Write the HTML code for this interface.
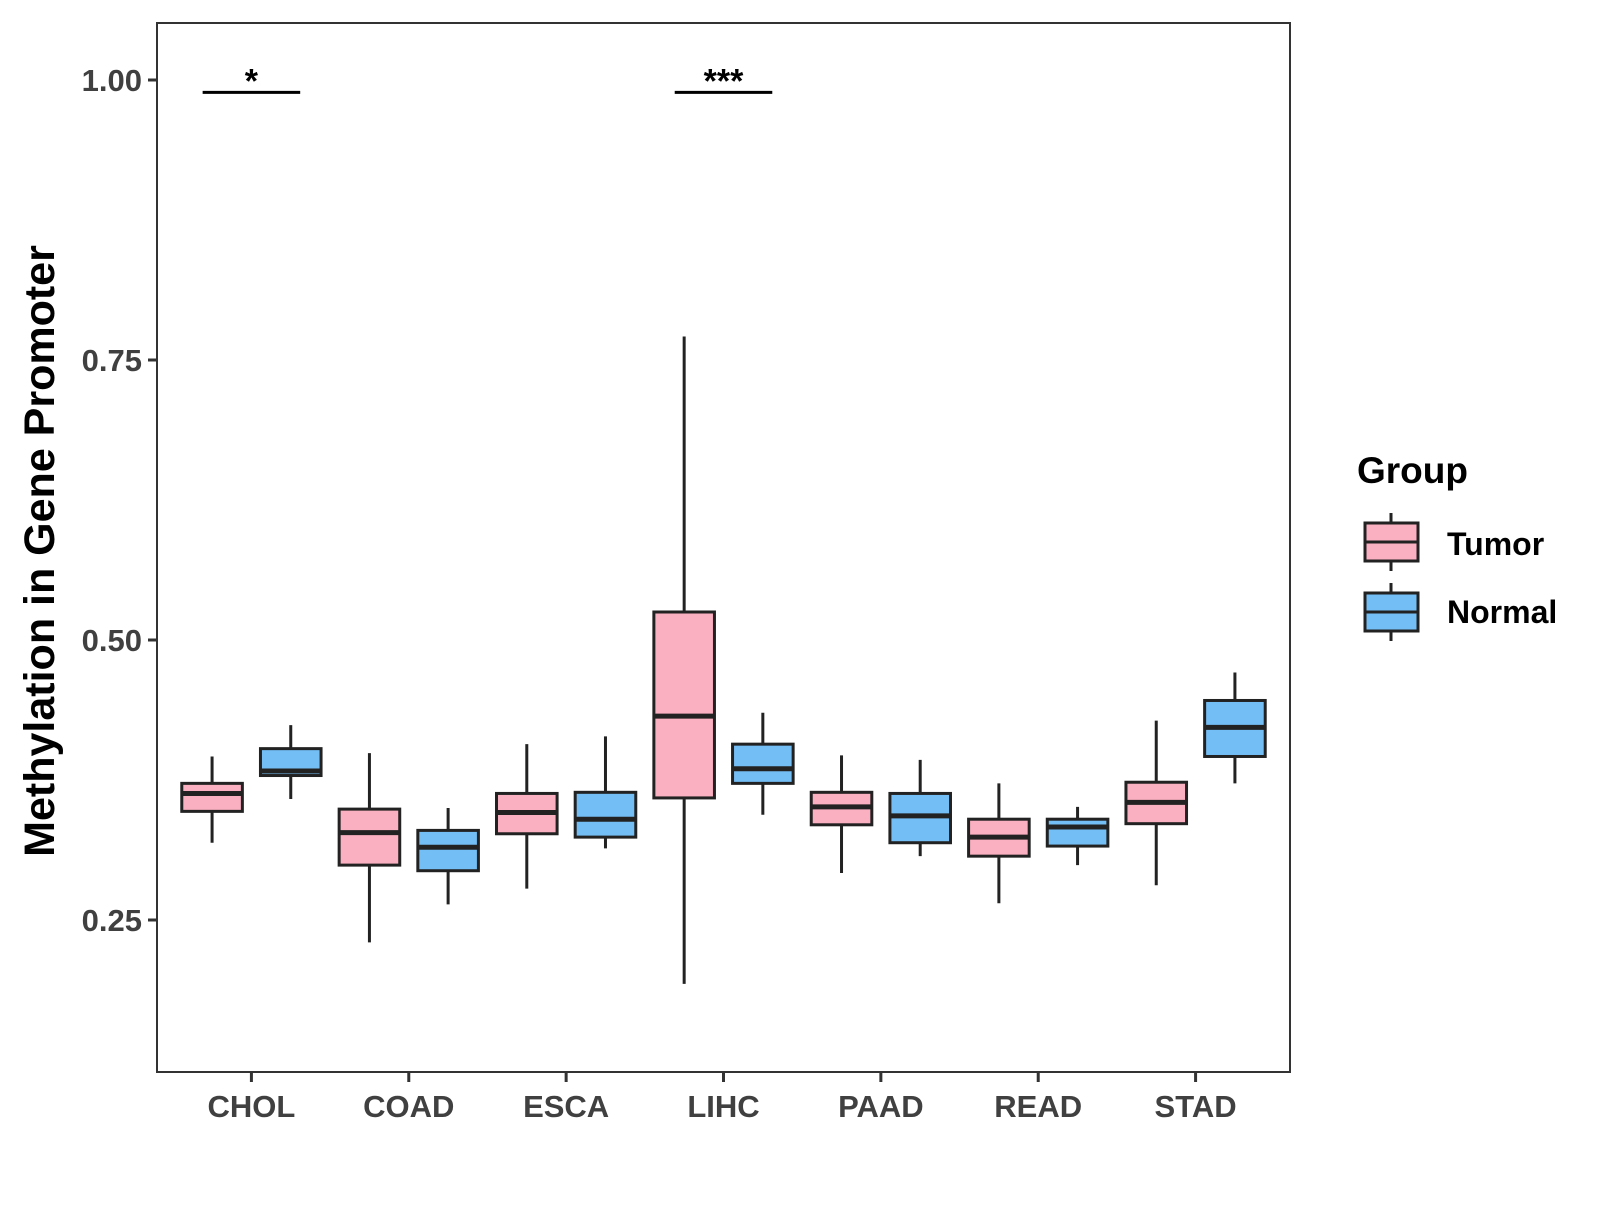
<!DOCTYPE html>
<html><head><meta charset="utf-8"><style>
html,body{margin:0;padding:0;background:#fff}
svg text{font-family:"Liberation Sans",Arial,sans-serif;font-weight:bold}
</style></head><body>
<svg id="chart" width="1600" height="1200" xmlns="http://www.w3.org/2000/svg">
<rect width="1600" height="1200" fill="#fff"/>
<g id="plot"></g>
<text transform="translate(54,551) rotate(-90)" text-anchor="middle" font-size="43" fill="#000">Methylation in Gene Promoter</text>
<g>
<text x="1357" y="483" font-size="37" fill="#000">Group</text>
<g>
<line x1="1391" y1="513" x2="1391" y2="571" stroke="#222" stroke-width="3"/>
<rect x="1365" y="523" width="53" height="38" fill="#FBB0C1" stroke="#222" stroke-width="3"/>
<line x1="1365" y1="542" x2="1418" y2="542" stroke="#222" stroke-width="3"/>
<text x="1447" y="555" font-size="32" fill="#000">Tumor</text>
</g>
<g>
<line x1="1391" y1="583" x2="1391" y2="641" stroke="#222" stroke-width="3"/>
<rect x="1365" y="593" width="53" height="38" fill="#74BEF6" stroke="#222" stroke-width="3"/>
<line x1="1365" y1="612" x2="1418" y2="612" stroke="#222" stroke-width="3"/>
<text x="1447" y="623" font-size="32" fill="#000">Normal</text>
</g>
</g>
</svg>
<script>
const categories=["CHOL","COAD","ESCA","LIHC","PAAD","READ","STAD"];
// [lowerWhisker, q1, median, q3, upperWhisker]
const tumorStats=[[0.319,0.347,0.363,0.372,0.396],[0.230,0.299,0.328,0.349,0.399],[0.278,0.327,0.346,0.363,0.407],[0.193,0.359,0.432,0.525,0.771],[0.292,0.335,0.351,0.364,0.397],[0.265,0.307,0.324,0.340,0.372],[0.281,0.336,0.355,0.373,0.428]];
const normalStats=[[0.358,0.379,0.383,0.403,0.424],[0.264,0.294,0.315,0.330,0.350],[0.314,0.324,0.340,0.364,0.414],[0.344,0.372,0.385,0.407,0.435],[0.307,0.319,0.343,0.363,0.393],[0.299,0.316,0.333,0.340,0.351],[0.372,0.396,0.422,0.446,0.471]];
const yTicks=[0.25,0.50,0.75,1.00];
const yTickLabels=["0.25","0.50","0.75","1.00"];
const sigCategories=["CHOL","LIHC"];
const sigLabels=["*","***"];
const sigLevel=[0.989,0.989];

const NS="http://www.w3.org/2000/svg";
const L=157,R=1290,T=23,B=1072;
const unit=(R-L)/(categories.length-1+1.2);
function xPos(i){return L+unit*(0.6+i);}
function yPos(v){return 80+(1-v)*1120;}
const g=document.getElementById('plot');
function mk(tag,attrs){const e=document.createElementNS(NS,tag);for(const k in attrs)e.setAttribute(k,attrs[k]);g.appendChild(e);return e;}

const panel=mk('rect',{x:L,y:T,width:R-L,height:B-T,fill:'none',stroke:'#333',"stroke-width":2});



yTicks.forEach((v,i)=>{
 const t=mk('line',{x1:L-9,x2:L,y1:yPos(v),y2:yPos(v),stroke:'#333',"stroke-width":3});
 
 
 const tx=mk('text',{x:L-15,y:yPos(v)+11,"text-anchor":"end","font-size":31,fill:'#404040'});
 tx.textContent=yTickLabels[i];
 
 
});
categories.forEach((c,i)=>{
 const x=xPos(i);
 const t=mk('line',{x1:x,x2:x,y1:B,y2:B+10,stroke:'#333',"stroke-width":3});
 
 
 const tx=mk('text',{x:x,y:B+45,"text-anchor":"middle","font-size":31,fill:'#404040'});
 tx.textContent=c;
 
 
});
const bw=unit*0.385;
function drawBox(cx,s,fill,name){
 const w=mk('line',{x1:cx,x2:cx,y1:yPos(s[0]),y2:yPos(s[4]),stroke:'#222',"stroke-width":3});
 
 
 const r=mk('rect',{x:cx-bw/2,y:yPos(s[3]),width:bw,height:yPos(s[1])-yPos(s[3]),fill:fill,stroke:'#222',"stroke-width":3});
 
 
 const m=mk('line',{x1:cx-bw/2,x2:cx+bw/2,y1:yPos(s[2]),y2:yPos(s[2]),stroke:'#222',"stroke-width":5});
 
 
}
categories.forEach((c,i)=>{
 drawBox(xPos(i)-unit*0.25,tumorStats[i],'#FBB0C1','tumor-'+c.toLowerCase());
 drawBox(xPos(i)+unit*0.25,normalStats[i],'#74BEF6','normal-'+c.toLowerCase());
});
sigCategories.forEach((c,k)=>{
 const i=categories.indexOf(c);
 const y=yPos(sigLevel[k]);
 const ln=mk('line',{x1:xPos(i)-unit*0.31,x2:xPos(i)+unit*0.31,y1:y,y2:y,stroke:'#000',"stroke-width":3});
 
 
 const tx=mk('text',{x:xPos(i),y:y,"text-anchor":"middle","font-size":34,fill:'#000'});
 tx.textContent=sigLabels[k];
 
 
});
</script>
</body></html>
